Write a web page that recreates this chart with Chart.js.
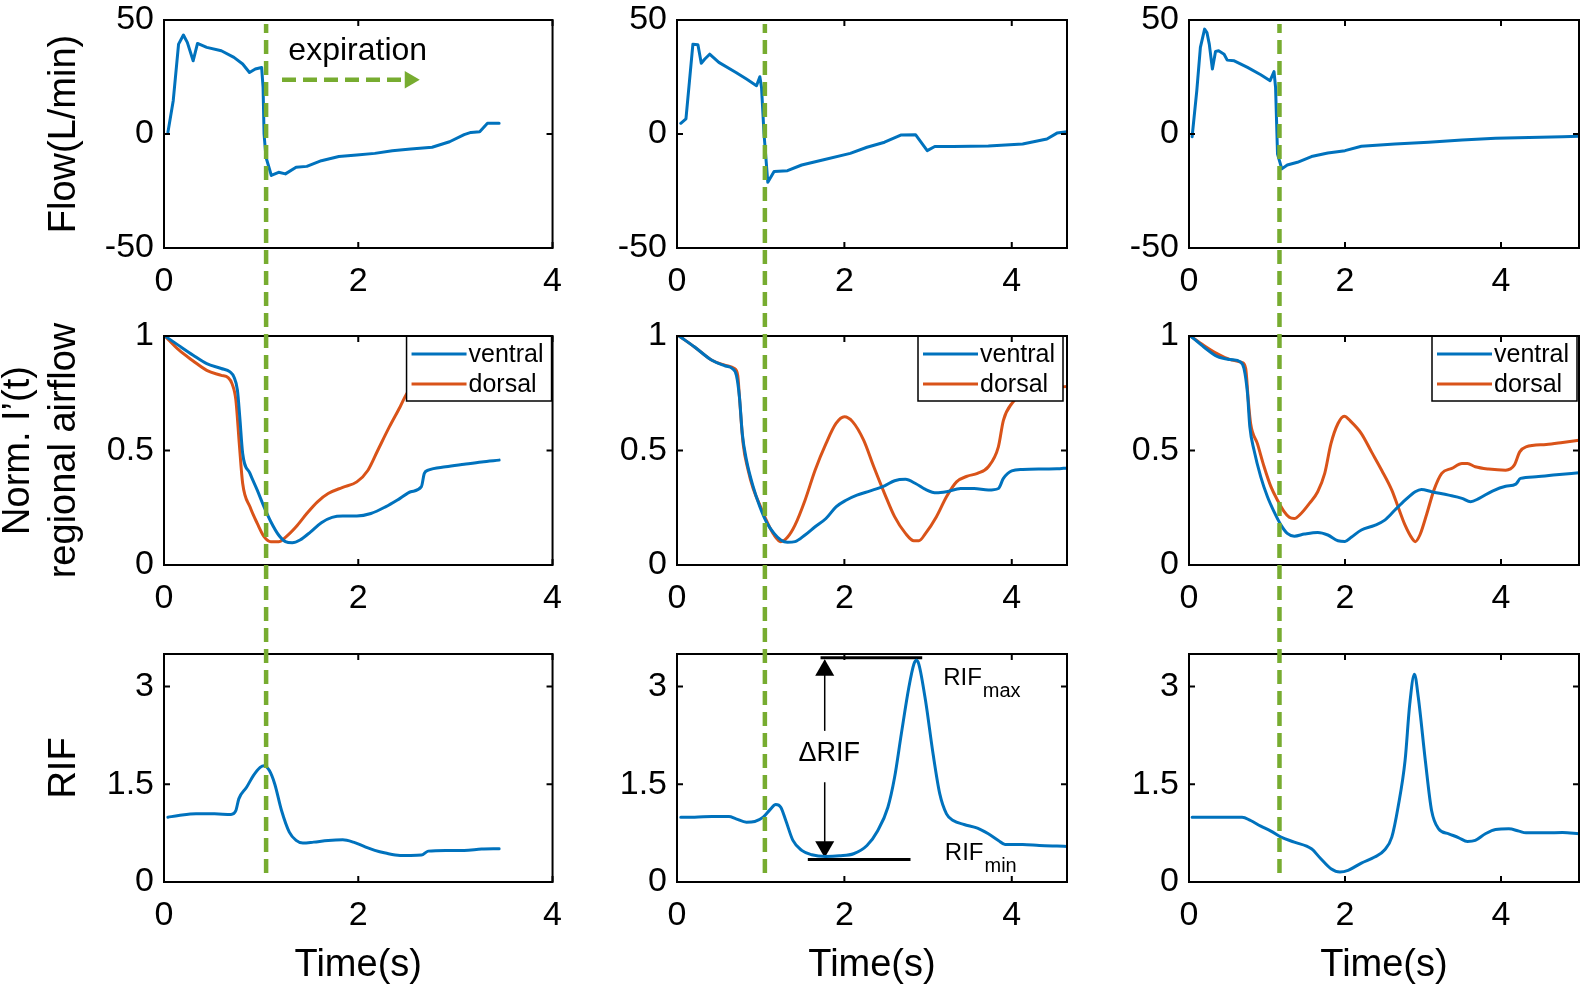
<!DOCTYPE html>
<html>
<head>
<meta charset="utf-8">
<script src="https://cdn.jsdelivr.net/npm/chart.js@4.4.1/dist/chart.umd.min.js"></script>
<style>
  html, body { margin: 0; padding: 0; background: #fff; overflow: hidden; }
  #fig { position: relative; width: 1585px; height: 988px; }
  canvas { position: absolute; }
</style>
</head>
<body>
<div id="fig"></div>
<script>
// ---- data (time in s) ----
// column 1
const flowT1 = [0.04,0.095,0.15,0.2,0.24,0.3,0.345,0.44,0.59,0.72,0.81,0.88,0.94,1.005,1.02,1.03,1.05,1.105,1.18,1.25,1.36,1.47,1.62,1.8,1.985,2.17,2.35,2.54,2.76,2.94,3.09,3.16,3.25,3.33,3.45];
const flow1 = [0.7,14.6,39.4,43.4,40.2,32.1,39.7,38,36.5,33.6,30.7,27,28.5,29.2,20.4,0,-10.2,-18.2,-16.8,-17.5,-14.6,-14.2,-11.7,-9.9,-9.2,-8.5,-7.3,-6.6,-5.8,-3.4,-0.3,0.7,1.0,4.7,4.7];
const ventT1 = [0.01,0.15,0.3,0.44,0.59,0.68,0.72,0.756,0.78,0.81,0.885,0.96,1.03,1.1,1.18,1.25,1.32,1.4,1.51,1.62,1.73,1.84,1.985,2.13,2.28,2.43,2.54,2.65,2.68,2.72,2.9,3.09,3.27,3.45];
const vent1 = [1.0,0.959,0.916,0.879,0.858,0.843,0.821,0.763,0.647,0.487,0.4,0.327,0.254,0.189,0.131,0.102,0.097,0.109,0.145,0.185,0.208,0.214,0.214,0.225,0.254,0.291,0.32,0.342,0.4,0.414,0.429,0.44,0.45,0.458];
const dorsT1 = [0.01,0.15,0.3,0.44,0.59,0.66,0.7,0.74,0.775,0.81,0.885,0.96,1.03,1.1,1.18,1.25,1.36,1.47,1.58,1.69,1.84,1.985,2.1,2.2,2.32,2.43,2.5,2.6,2.8,3.0];
const dors1 = [1.0,0.94,0.891,0.85,0.828,0.818,0.792,0.72,0.53,0.356,0.254,0.182,0.124,0.102,0.102,0.121,0.167,0.225,0.276,0.312,0.339,0.363,0.414,0.5,0.603,0.69,0.749,0.8,0.9,0.98];
const rifT1 = [0.04,0.15,0.33,0.52,0.69,0.74,0.77,0.85,0.92,0.99,1.03,1.085,1.14,1.21,1.29,1.36,1.43,1.54,1.69,1.84,1.95,2.06,2.17,2.28,2.43,2.54,2.65,2.72,2.9,3.09,3.27,3.45];
const rif1 = [0.995,1.02,1.046,1.046,1.036,1.097,1.276,1.454,1.633,1.76,1.786,1.71,1.505,1.097,0.765,0.638,0.597,0.612,0.638,0.648,0.612,0.546,0.485,0.444,0.408,0.408,0.413,0.474,0.485,0.485,0.505,0.51];

// column 2
const flowT2 = [0.045,0.107,0.19,0.25,0.29,0.33,0.39,0.5,0.705,0.83,0.95,0.99,1.01,1.04,1.085,1.16,1.32,1.49,1.74,2.07,2.27,2.48,2.68,2.85,2.99,3.08,3.3,3.72,4.13,4.42,4.54,4.66];
const flow2 = [4.7,6.6,39.4,39.1,31,32.8,35,31.4,27,24.1,21.2,25.1,20.4,0,-21.2,-16.4,-16.1,-13.6,-11.4,-8.5,-5.8,-3.6,-0.4,-0.3,-7.3,-5.5,-5.5,-5.3,-4.4,-2.2,0.4,1.0];
const ventT2 = [0.025,0.21,0.417,0.58,0.66,0.71,0.746,0.78,0.83,0.91,0.99,1.076,1.16,1.24,1.32,1.41,1.53,1.65,1.78,1.9,2.02,2.15,2.31,2.48,2.6,2.73,2.85,2.97,3.1,3.22,3.39,3.55,3.72,3.84,3.9,4.0,4.13,4.33,4.54,4.66];
const vent2 = [1.0,0.952,0.894,0.869,0.858,0.828,0.734,0.574,0.458,0.342,0.254,0.182,0.138,0.109,0.099,0.102,0.131,0.167,0.203,0.254,0.283,0.305,0.324,0.346,0.368,0.374,0.356,0.33,0.315,0.32,0.334,0.334,0.327,0.334,0.378,0.411,0.417,0.419,0.42,0.424];
const dorsT2 = [0.025,0.21,0.417,0.58,0.685,0.726,0.746,0.79,0.85,0.91,0.99,1.076,1.16,1.24,1.32,1.41,1.53,1.65,1.78,1.9,2.0,2.1,2.23,2.35,2.48,2.6,2.73,2.83,2.89,2.97,3.1,3.22,3.34,3.47,3.59,3.72,3.84,3.9,4.0,4.2,4.66];
const dors2 = [1.0,0.952,0.894,0.872,0.858,0.828,0.734,0.53,0.414,0.334,0.262,0.189,0.131,0.102,0.121,0.174,0.283,0.414,0.53,0.618,0.647,0.625,0.545,0.43,0.312,0.211,0.138,0.106,0.106,0.138,0.211,0.298,0.363,0.388,0.4,0.429,0.516,0.632,0.705,0.76,0.78];
const rifT2 = [0.045,0.21,0.417,0.62,0.705,0.83,0.93,1.03,1.12,1.18,1.24,1.3,1.385,1.49,1.61,1.78,1.94,2.11,2.27,2.4,2.52,2.6,2.68,2.77,2.83,2.86,2.89,2.97,3.06,3.14,3.22,3.3,3.43,3.59,3.72,3.84,3.92,4.13,4.33,4.54,4.66];
const rif2 = [0.995,0.995,1.005,1.005,0.97,0.918,0.929,0.995,1.122,1.189,1.148,0.944,0.638,0.485,0.418,0.393,0.403,0.434,0.561,0.791,1.148,1.607,2.27,2.985,3.342,3.403,3.342,2.781,1.964,1.352,1.046,0.944,0.883,0.827,0.74,0.638,0.577,0.577,0.561,0.551,0.546];

// column 3
const flowT3 = [0.04,0.1,0.146,0.2,0.23,0.26,0.3,0.34,0.38,0.45,0.49,0.58,0.75,0.92,1.04,1.09,1.11,1.135,1.19,1.26,1.39,1.57,1.78,2.0,2.21,2.64,3.07,3.5,3.93,4.36,4.79,5.0];
const flow3 = [-1.2,19,38,46,44.5,39.4,28.5,36.2,36.5,35,32.4,32.1,29.2,26,23.4,27.4,20.4,-8.8,-15.3,-13.6,-12.4,-9.9,-8.3,-7.3,-5.4,-4.4,-3.6,-2.6,-1.9,-1.5,-1.2,-1.0];
const ventT3 = [0.02,0.19,0.36,0.53,0.66,0.705,0.75,0.78,0.834,0.92,1.006,1.09,1.18,1.26,1.35,1.48,1.65,1.78,1.91,2.0,2.08,2.21,2.38,2.51,2.64,2.77,2.9,2.98,3.11,3.33,3.5,3.61,3.72,3.89,4.06,4.19,4.25,4.45,4.71,5.0];
const vent3 = [1.0,0.952,0.911,0.897,0.887,0.858,0.749,0.603,0.501,0.385,0.298,0.233,0.174,0.138,0.126,0.135,0.142,0.131,0.106,0.103,0.121,0.153,0.173,0.196,0.24,0.283,0.32,0.33,0.32,0.305,0.291,0.276,0.291,0.323,0.344,0.353,0.378,0.385,0.394,0.403];
const dorsT3 = [0.02,0.19,0.36,0.53,0.68,0.727,0.76,0.79,0.877,0.963,1.05,1.135,1.22,1.286,1.35,1.437,1.544,1.65,1.74,1.82,1.91,1.99,2.08,2.21,2.34,2.47,2.6,2.68,2.77,2.86,2.9,2.96,3.05,3.14,3.24,3.37,3.5,3.57,3.67,3.84,4.06,4.17,4.24,4.32,4.58,4.79,5.0];
const dors3 = [1.0,0.959,0.923,0.897,0.884,0.858,0.72,0.618,0.53,0.429,0.342,0.283,0.233,0.208,0.203,0.225,0.269,0.32,0.4,0.53,0.618,0.65,0.625,0.574,0.494,0.414,0.327,0.254,0.174,0.116,0.102,0.131,0.225,0.327,0.4,0.422,0.443,0.443,0.429,0.419,0.414,0.436,0.494,0.516,0.526,0.535,0.545];
const rifT3 = [0.04,0.275,0.49,0.68,0.79,0.92,1.05,1.18,1.35,1.57,1.69,1.82,1.935,2.04,2.21,2.38,2.51,2.6,2.68,2.77,2.83,2.89,2.94,3.03,3.11,3.2,3.33,3.46,3.57,3.67,3.8,3.93,4.1,4.23,4.32,4.58,4.79,5.0];
const rif3 = [0.995,0.995,0.995,0.995,0.944,0.857,0.781,0.689,0.612,0.51,0.357,0.204,0.153,0.179,0.291,0.383,0.495,0.689,1.148,1.862,2.73,3.19,2.832,1.862,1.097,0.816,0.74,0.679,0.622,0.638,0.74,0.806,0.816,0.781,0.755,0.755,0.76,0.74];

// onset of expiration per column, axis ranges, ticks
const onset = [1.05, 1.05, 1.16];
const xMax = [4, 4.66, 5];
const xTicks = [0, 2, 4];
const flowTicks = [-50, 0, 50];
const normTicks = [0, 0.5, 1];
const rifTicks = [0, 1.5, 3];

// annotations
const arrowT = [1.215, 2.53], arrowFlow = [23.8, 23.8];
const rifMaxT = [1.715, 2.93], rifMaxY = [3.444, 3.444];
const rifMinT = [1.563, 2.79], rifMinY = [0.347, 0.347];
const deltaT = 1.765;
const deltaUpY = [2.32, 3.40], deltaDownY = [1.53, 0.40], deltaHeadY = [3.25, 0.54];

const BLUE = '#0072BD', ORANGE = '#D95319', GREEN = '#77AC30';
const FONT = "'Liberation Sans', Arial, Helvetica, sans-serif";
Chart.defaults.font.family = FONT;
Chart.defaults.color = '#000';

// plot boxes in page pixels
const rows = [
  { t: 20, b: 248, ct: -20, cb: 310 },
  { t: 336, b: 565, ct: 296, cb: 625 },
  { t: 654, b: 882, ct: 614, cb: 988 }
];
const cols = [
  { l: 164, r: 553, cl: 0, cr: 575 },
  { l: 677, r: 1067, cl: 560, cr: 1087 },
  { l: 1189, r: 1579, cl: 1075, cr: 1585 }
];

const pts = (xs, ys) => xs.map((x, i) => ({ x: x, y: ys[i] }));

function line(xs, ys, color, label, smooth) {
  return {
    label: label, data: pts(xs, ys), borderColor: color, borderWidth: 3,
    pointRadius: 0, fill: false, borderJoinStyle: 'round', borderCapStyle: 'round',
    cubicInterpolationMode: smooth ? 'monotone' : 'default', tension: 0
  };
}

const framePlugin = {
  id: 'frame',
  afterDatasetsDraw(chart, args, opts) {
    const { ctx, chartArea: a, scales } = chart;
    const sx = scales.x, sy = scales.y;
    ctx.save();
    (opts.notes || []).forEach(n => {
      const px = sx.getPixelForValue(n.x), py = sy.getPixelForValue(n.y);
      ctx.fillStyle = '#000';
      ctx.font = n.size + 'px ' + FONT;
      ctx.textAlign = n.align || 'left';
      ctx.textBaseline = n.sub ? 'alphabetic' : 'middle';
      ctx.fillText(n.text, px, py);
      if (n.sub) {
        const w = ctx.measureText(n.text).width;
        ctx.font = n.subSize + 'px ' + FONT;
        ctx.textAlign = 'left';
        ctx.fillText(n.sub, px + w + 1, py + 12);
      }
    });
    if (opts.legend) {
      const items = chart.data.datasets.filter(d => d.label);
      const bw = 145, bh = 65;
      const bx = a.right - opts.legendInset - bw, by = a.top;
      ctx.fillStyle = '#fff';
      ctx.fillRect(bx, by, bw, bh);
      ctx.strokeStyle = '#000';
      ctx.lineWidth = 1.5;
      ctx.strokeRect(bx, by, bw, bh);
      items.forEach((d, i) => {
        const yy = by + 18 + i * 30;
        ctx.strokeStyle = d.borderColor;
        ctx.lineWidth = 3;
        ctx.beginPath();
        ctx.moveTo(bx + 5, yy);
        ctx.lineTo(bx + 60, yy);
        ctx.stroke();
        ctx.fillStyle = '#000';
        ctx.font = '25px ' + FONT;
        ctx.textAlign = 'left';
        ctx.textBaseline = 'middle';
        ctx.fillText(d.label, bx + 62, yy + 1);
      });
    }
    ctx.strokeStyle = '#000';
    ctx.lineWidth = 2;
    ctx.strokeRect(a.left, a.top, a.right - a.left, a.bottom - a.top);
    ctx.beginPath();
    sx.ticks.forEach(t => {
      const x = sx.getPixelForValue(t.value);
      ctx.moveTo(x, a.bottom); ctx.lineTo(x, a.bottom - 6);
      ctx.moveTo(x, a.top); ctx.lineTo(x, a.top + 6);
    });
    sy.ticks.forEach(t => {
      const y = sy.getPixelForValue(t.value);
      ctx.moveTo(a.left, y); ctx.lineTo(a.left + 6, y);
      ctx.moveTo(a.right, y); ctx.lineTo(a.right - 6, y);
    });
    ctx.stroke();
    ctx.restore();
  }
};

function makeCanvas(left, top, width, height) {
  const c = document.createElement('canvas');
  c.width = width; c.height = height;
  c.style.left = left + 'px'; c.style.top = top + 'px';
  c.style.width = width + 'px'; c.style.height = height + 'px';
  document.getElementById('fig').appendChild(c);
  return c;
}

const yTitles = [
  { text: 'Flow(L/min)', pad: 41 },
  { text: ['Norm. I\u2019(t)', 'regional airflow'], pad: -5 },
  { text: 'RIF', pad: 41 }
];
const yRanges = [[-50, 50, flowTicks], [0, 1, normTicks], [0, 3.5, rifTicks]];
const legendInset = [1, 4, 2];

function panel(r, c, datasets, notes) {
  const R = rows[r], C = cols[c];
  const canvas = makeCanvas(C.cl, R.ct, C.cr - C.cl, R.cb - R.ct);
  const yr = yRanges[r];
  return new Chart(canvas, {
    type: 'line',
    data: { datasets: datasets },
    options: {
      responsive: false, animation: false, events: [],
      layout: { padding: { top: R.t - R.ct, right: C.cr - C.r, left: 0, bottom: 0 } },
      plugins: {
        legend: { display: false }, tooltip: { enabled: false },
        frame: { notes: notes || [], legend: r === 1, legendInset: legendInset[c] }
      },
      scales: {
        x: {
          type: 'linear', min: 0, max: xMax[c],
          afterBuildTicks: s => { s.ticks = xTicks.map(v => ({ value: v })); },
          afterFit: s => { s.height = R.cb - R.b; },
          grid: { display: false, drawTicks: false }, border: { display: false },
          ticks: { font: { size: 34 }, padding: 13, maxRotation: 0, autoSkip: false, color: '#000', callback: v => String(v) },
          title: { display: r === 2, text: 'Time(s)', font: { size: 38, lineHeight: 1.22 }, padding: { top: 0, bottom: -1 }, color: '#000' }
        },
        y: {
          type: 'linear', min: yr[0], max: yr[1],
          afterBuildTicks: s => { s.ticks = yr[2].map(v => ({ value: v })); },
          afterFit: s => { s.width = C.l - C.cl; },
          grid: { display: false, drawTicks: false }, border: { display: false },
          ticks: { font: { size: 34 }, padding: 10, color: '#000', callback: v => String(v) },
          title: { display: c === 0, text: yTitles[r].text, font: { size: 38, lineHeight: 1.22 }, padding: { top: yTitles[r].pad, bottom: 0 }, color: '#000' }
        }
      }
    },
    plugins: [framePlugin]
  });
}

// row 1: flow
const arrow = {
  data: pts(arrowT, arrowFlow), borderColor: GREEN, backgroundColor: GREEN, borderWidth: 4.5,
  borderDash: [14, 7], pointStyle: 'triangle', pointRotation: 90,
  pointRadius: ctx => ctx.dataIndex === 1 ? 10 : 0, pointBorderWidth: 0, pointBackgroundColor: GREEN
};
panel(0, 0, [line(flowT1, flow1, BLUE), arrow], [{ x: 1.28, y: 36.5, text: 'expiration', size: 32 }]);
panel(0, 1, [line(flowT2, flow2, BLUE)]);
panel(0, 2, [line(flowT3, flow3, BLUE)]);

// row 2: normalized regional airflow
panel(1, 0, [line(ventT1, vent1, BLUE, 'ventral', true), line(dorsT1, dors1, ORANGE, 'dorsal', true)]);
panel(1, 1, [line(ventT2, vent2, BLUE, 'ventral', true), line(dorsT2, dors2, ORANGE, 'dorsal', true)]);
panel(1, 2, [line(ventT3, vent3, BLUE, 'ventral', true), line(dorsT3, dors3, ORANGE, 'dorsal', true)]);

// row 3: RIF
panel(2, 0, [line(rifT1, rif1, BLUE, null, true)]);
const black = (xs, ys, w) => ({ data: pts(xs, ys), borderColor: '#000', borderWidth: w, pointRadius: 0, tension: 0 });
const heads = {
  data: pts([deltaT, deltaT], deltaHeadY), showLine: false, pointStyle: 'triangle',
  pointRadius: 11, pointBorderWidth: 0, pointBackgroundColor: '#000',
  pointRotation: ctx => ctx.dataIndex === 0 ? 0 : 180
};
panel(2, 1, [
  line(rifT2, rif2, BLUE, null, true),
  black(rifMaxT, rifMaxY, 3), black(rifMinT, rifMinY, 3),
  black([deltaT, deltaT], deltaUpY, 1.5), black([deltaT, deltaT], deltaDownY, 1.5), heads
], [
  { x: 1.82, y: 1.976, text: '\u0394RIF', size: 27, align: 'center' },
  { x: 3.18, y: 3.024, text: 'RIF', sub: 'max', size: 24, subSize: 20 },
  { x: 3.2, y: 0.338, text: 'RIF', sub: 'min', size: 24, subSize: 20 }
]);
panel(2, 2, [line(rifT3, rif3, BLUE, null, true)]);

// dashed expiration-onset markers running through each column
cols.forEach((C, c) => {
  const canvas = makeCanvas(C.cl, 0, C.cr - C.cl, 988);
  new Chart(canvas, {
    type: 'line',
    data: { datasets: [{
      data: pts([onset[c], onset[c]], [0, 1]), borderColor: GREEN, borderWidth: 4.5,
      borderDash: [14, 7], pointRadius: 0, tension: 0
    }] },
    options: {
      responsive: false, animation: false, events: [],
      layout: { padding: { left: C.l - C.cl, right: C.cr - C.r, top: 24, bottom: 988 - 873 } },
      plugins: { legend: { display: false }, tooltip: { enabled: false } },
      scales: {
        x: { type: 'linear', display: false, min: 0, max: xMax[c] },
        y: { type: 'linear', display: false, min: 0, max: 1 }
      }
    }
  });
});
</script>
</body>
</html>
